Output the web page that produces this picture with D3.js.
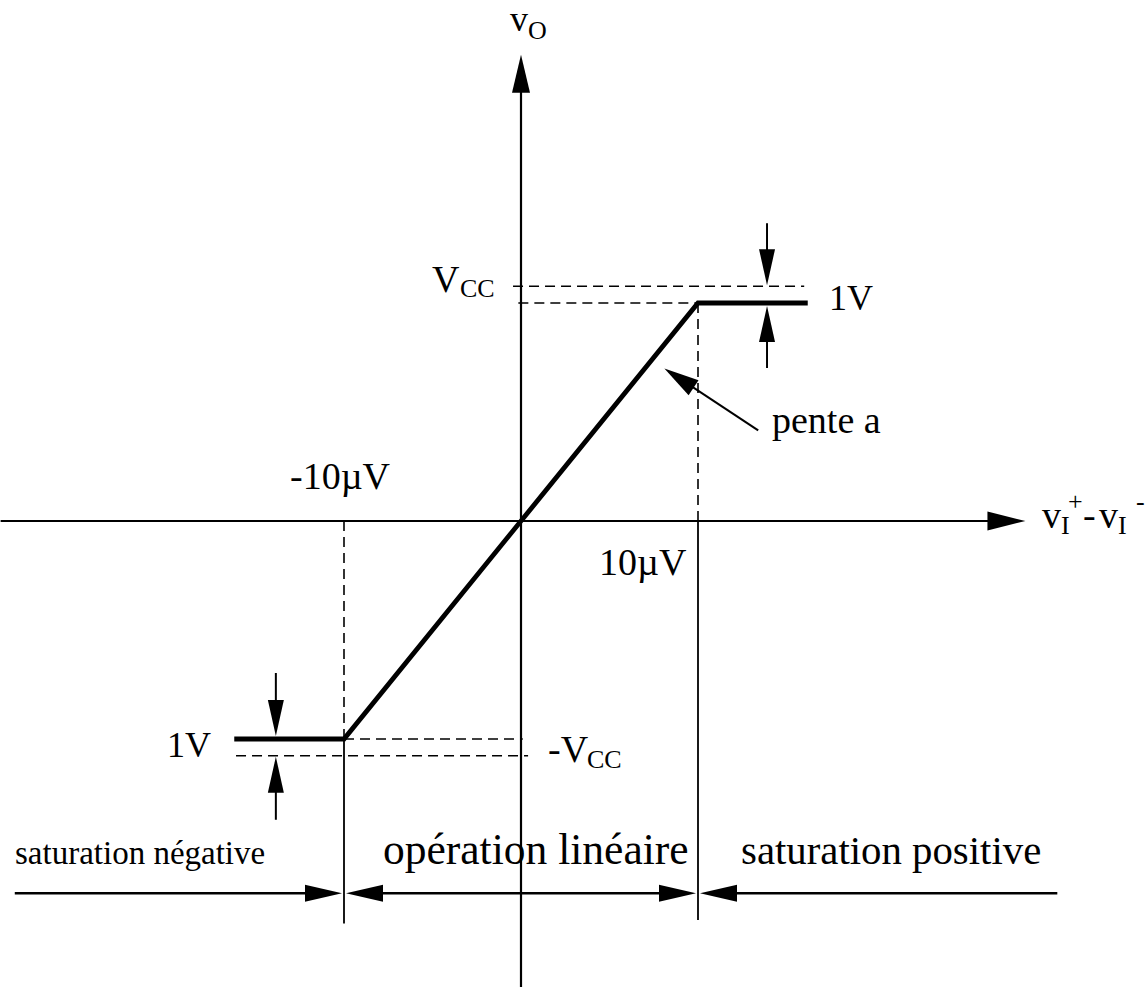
<!DOCTYPE html>
<html>
<head>
<meta charset="utf-8">
<script src="https://cdn.jsdelivr.net/npm/d3@7"></script>
<style>
body { margin: 0; background: #fff; }
svg { display: block; font-family: "Liberation Serif", "Times New Roman", serif; }
</style>
</head>
<body>
<svg></svg>
<script>
var width = 1147, height = 987;

// transfer characteristic breakpoints
var vinUV = [-16.2, -10, 10, 16.2];      // vI+ - vI-  (µV)
var voutV = [-13, -13, 13, 13];          // vO (V)
var vcc = 14;                            // supply rail (V), saturation is 1V below
var satBounds = [-10, 10];               // edges of the linear region (µV)
var regions = ["saturation négative", "opération linéaire", "saturation positive"];
var regionEdges = [-28.6, -10, 10, 30.3];
var xAxisExtent = [-29.4, 28.5];
var yAxisExtent = [-27.8, 27.8];
var tickLabels = ["-10µV", "10µV"];
var dropLabel = "1V";

var x = d3.scaleLinear().domain(satBounds).range([344, 698]);
var y = d3.scaleLinear().domain([-13, 13]).range([739, 303]);

var svg = d3.select("svg")
    .attr("width", width)
    .attr("height", height);

function seg(x1, y1, x2, y2, w, dash) {
  var l = svg.append("line")
      .attr("x1", x1).attr("y1", y1)
      .attr("x2", x2).attr("y2", y2)
      .attr("stroke", "#000")
      .attr("stroke-width", w);
  if (dash) l.attr("stroke-dasharray", dash);
  return l;
}

// filled arrow head, angle = direction it points to
function head(tx, ty, angle, len, half) {
  var bx = tx - len * Math.cos(angle), by = ty - len * Math.sin(angle);
  var nx = -Math.sin(angle) * half, ny = Math.cos(angle) * half;
  svg.append("path")
      .attr("d", "M" + tx + "," + ty + "L" + (bx + nx) + "," + (by + ny) + "L" + (bx - nx) + "," + (by - ny) + "Z")
      .attr("fill", "#000");
}

function label(px, py, size, txt) {
  return svg.append("text")
      .attr("x", px).attr("y", py)
      .style("font-size", size + "px")
      .text(txt);
}

var dash = "10,6";

// dashed guides
seg(x(-0.45), y(vcc), x(16), y(vcc), 1.6, dash);
seg(x(-0.15), y(voutV[3]), x(satBounds[1]), y(voutV[3]), 1.6, dash);
seg(x(satBounds[1]), y(voutV[3]), x(satBounds[1]), y(0), 1.6, dash);
seg(x(satBounds[0]), y(voutV[0]), x(0.1), y(voutV[0]), 1.6, dash);
seg(x(-16.1), y(-vcc), x(0.4), y(-vcc), 1.6, dash);
seg(x(satBounds[0]), y(0), x(satBounds[0]), y(voutV[0]), 1.6, dash);

// region separators
seg(x(satBounds[0]), y(voutV[0]), x(satBounds[0]), y(-24), 1.8);
seg(x(satBounds[1]), y(0), x(satBounds[1]), y(-23.8), 1.8);

// axes
seg(x(xAxisExtent[0]), y(0), x(xAxisExtent[1]) - 30, y(0), 2.2);
head(x(xAxisExtent[1]), y(0), 0, 38, 9.5);
seg(x(0), y(yAxisExtent[0]), x(0), y(yAxisExtent[1]) + 30, 2.2);
head(x(0), y(yAxisExtent[1]), -Math.PI / 2, 38, 9);

// transfer curve
var pts = vinUV.map(function(d, i) { return [d, voutV[i]]; });
svg.append("path")
    .datum(pts)
    .attr("d", d3.line().x(function(d) { return x(d[0]); }).y(function(d) { return y(d[1]); }))
    .attr("fill", "none")
    .attr("stroke", "#000")
    .attr("stroke-width", 4.8)
    .attr("stroke-linejoin", "miter");

// 1V dimension arrows
var xr = x(13.9), xl = x(-13.85);
seg(xr, y(vcc) - 63, xr, y(vcc) - 20, 2);
head(xr, y(vcc) - 1, Math.PI / 2, 36, 8);
seg(xr, y(voutV[3]) + 65, xr, y(voutV[3]) + 20, 2);
head(xr, y(voutV[3]) + 3, -Math.PI / 2, 36, 8);
seg(xl, y(voutV[0]) - 66, xl, y(voutV[0]) - 20, 2);
head(xl, y(voutV[0]) - 3, Math.PI / 2, 36, 8);
seg(xl, y(-vcc) + 64, xl, y(-vcc) + 20, 2);
head(xl, y(-vcc) + 1, -Math.PI / 2, 36, 8);

// slope pointer
var tip = [x(8.1), y(9.1)], tail = [x(13.4), y(5.4)];
var ang = Math.atan2(tip[1] - tail[1], tip[0] - tail[0]);
seg(tail[0], tail[1], tip[0] - 20 * Math.cos(ang), tip[1] - 20 * Math.sin(ang), 2);
head(tip[0], tip[1], ang, 35, 9);

// region arrows
var ry = y(-22.2);
seg(x(regionEdges[0]), ry, x(regionEdges[1]) - 20, ry, 2.5);
head(x(regionEdges[1]) - 2, ry, 0, 37, 8.5);
seg(x(regionEdges[1]) + 20, ry, x(regionEdges[2]) - 20, ry, 2.5);
head(x(regionEdges[1]) + 2, ry, Math.PI, 37, 8.5);
head(x(regionEdges[2]) - 2, ry, 0, 37, 8.5);
seg(x(regionEdges[2]) + 20, ry, x(regionEdges[3]), ry, 2.5);
head(x(regionEdges[2]) + 2, ry, Math.PI, 37, 8.5);

label(15, 864, 33, regions[0]);
label(383, 864, 43.5, regions[1]);
label(741, 864, 40.8, regions[2]);

// text labels
label(510, 31, 36, "v");
label(528, 39, 26, "O");
label(432, 292, 38, "V");
label(460, 297, 26, "CC");
label(548, 762, 38, "-V");
label(560 + 27, 768, 26, "CC");
label(829, 310, 36, dropLabel);
label(167, 757, 36, dropLabel);
label(772, 433, 38, "pente a");
label(290, 489, 38, tickLabels[0]);
label(599, 575, 38, tickLabels[1]);

// x axis title  vI+ - vI-
label(1042, 528, 38, "v");
label(1061, 534, 26, "I");
label(1068, 510, 26, "+");
label(1083, 528, 38, "-");
label(1099, 528, 38, "v");
label(1118, 534, 26, "I");
label(1136, 510, 26, "-");
</script>
</body>
</html>
